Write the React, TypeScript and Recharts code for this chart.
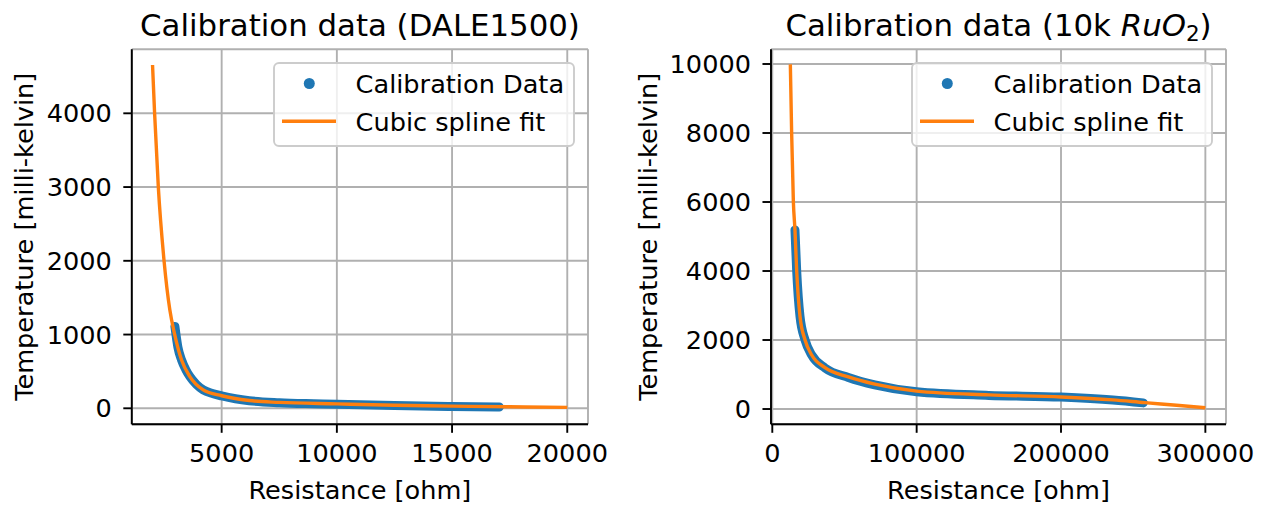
import { LineChart, Line, XAxis, YAxis, CartesianGrid, Legend } from "recharts";

const FONT = "'DejaVu Sans', sans-serif";
const BLUE = "#1f77b4";
const ORANGE = "#ff7f0e";
const GRID = "#b0b0b0";
const FS = 25.6;

// DALE1500 calibration points and spline fit (resistance in ohm, temperature in mK)
const daleCalR = [2970, 3100, 3260, 3450, 3620, 3900, 4200, 4600, 5000, 5600, 6200, 7500, 9000, 10000, 12500, 15000, 17050];
const daleCalT = [1110, 830, 655, 520, 430, 325, 250, 200, 168, 130, 103, 76, 62, 55, 38, 25, 18];
const daleFitR = [2000, 2090, 2250, 2500, 2750, 2960, 3260, 3620, 4200, 5000, 6200, 7500, 10000, 12500, 15000, 17500, 20000];
const daleFitT = [4655, 4000, 3005, 2000, 1335, 1003, 655, 430, 250, 170, 105, 80, 60, 42, 30, 20, 12];
const daleTicksX = [5000, 10000, 15000, 20000];
const daleTicksY = [0, 1000, 2000, 3000, 4000];

// 10k RuO2 calibration points and spline fit
const ruoCalR = [15700, 16900, 19200, 22700, 27300, 36500, 52700, 71000, 100000, 150000, 200000, 236000, 257000];
const ruoCalT = [5190, 4000, 2680, 2000, 1565, 1190, 915, 700, 500, 395, 345, 260, 178];
const ruoFitR = [12500, 13400, 14600, 15700, 16900, 19200, 22700, 27300, 36500, 52700, 71000, 100000, 150000, 200000, 236000, 258000, 280000, 300000];
const ruoFitT = [9990, 8000, 6000, 5190, 4000, 2680, 2000, 1565, 1200, 930, 720, 520, 410, 350, 265, 185, 110, 38];
const ruoTicksX = [0, 100000, 200000, 300000];
const ruoTicksY = [0, 2000, 4000, 6000, 8000, 10000];

const toPoints = (rs: number[], ts: number[]) => rs.map((r, i) => ({ r, t: ts[i] }));

const tickStyle = { fill: "#000", fontSize: FS, fontFamily: FONT };
const blackLine = { stroke: "#000", strokeWidth: 1.9 };

function LegendBox(props: any) {
  const items = props.payload || [];
  return (
    <svg width={302} height={85}>
      <rect x={1} y={1} width={300} height={83} rx={5} fill="rgba(255,255,255,0.8)" stroke="#cccccc" strokeWidth={1.9} />
      {items.map((it: any, i: number) => {
        const cy = 21.5 + i * 37.7;
        return (
          <g key={i}>
            {it.type === "circle" ? (
              <circle cx={36.3} cy={cy} r={5.5} fill={it.color} />
            ) : (
              <line x1={9} x2={63} y1={cy} y2={cy} stroke={it.color} strokeWidth={3.4} />
            )}
            <text x={82.6} y={cy + 9.3} fontSize={FS} fontFamily={FONT} fill="#000">
              {it.value}
            </text>
          </g>
        );
      })}
    </svg>
  );
}

type PanelProps = {
  cal: { r: number; t: number }[];
  fit: { r: number; t: number }[];
  xDomain: [number, number];
  yDomain: [number, number];
  xTicks: number[];
  yTicks: number[];
  yAxisWidth: number;
  marginLeft: number;
  marginRight: number;
  yLabelOffset: number;
  legendLeft: number;
};

function Panel(p: PanelProps) {
  const xLabel = (props: any) => {
    const vb = props.viewBox;
    return (
      <text x={vb.x + vb.width / 2} y={vb.y + 75} textAnchor="middle" fontSize={FS} fontFamily={FONT} fill="#000">
        Resistance [ohm]
      </text>
    );
  };
  const yLabel = (props: any) => {
    const vb = props.viewBox;
    const x = vb.x + vb.width - p.yLabelOffset;
    const y = vb.y + vb.height / 2;
    return (
      <text x={x} y={y} transform={`rotate(-90 ${x} ${y})`} textAnchor="middle" fontSize={FS} fontFamily={FONT} fill="#000">
        Temperature [milli-kelvin]
      </text>
    );
  };
  return (
    <LineChart width={631} height={506} margin={{ top: 49.3, right: p.marginRight, bottom: 41.7, left: p.marginLeft }}>
      <CartesianGrid stroke={GRID} strokeWidth={1.9} />
      <XAxis
        type="number"
        dataKey="r"
        domain={p.xDomain}
        ticks={p.xTicks}
        allowDataOverflow
        height={40}
        tickSize={8.5}
        tickMargin={11.5}
        tick={tickStyle}
        tickLine={blackLine}
        axisLine={blackLine}
        label={xLabel}
      />
      <XAxis xAxisId="top" orientation="top" type="number" domain={p.xDomain} allowDataOverflow height={0} tick={false} tickLine={false} axisLine={blackLine} />
      <YAxis
        type="number"
        dataKey="t"
        domain={p.yDomain}
        ticks={p.yTicks}
        allowDataOverflow
        width={p.yAxisWidth}
        tickSize={8.5}
        tickMargin={11.5}
        tick={tickStyle}
        tickLine={blackLine}
        axisLine={blackLine}
        label={yLabel}
      />
      <YAxis yAxisId="right" orientation="right" type="number" domain={p.yDomain} allowDataOverflow width={0} tick={false} tickLine={false} axisLine={blackLine} />
      <Legend
        layout="vertical"
        align="center"
        verticalAlign="middle"
        content={LegendBox}
        wrapperStyle={{ left: p.legendLeft, top: 62.3, width: 302, height: 85 }}
      />
      <Line
        data={p.cal}
        dataKey="t"
        name="Calibration Data"
        legendType="circle"
        type="monotone"
        stroke={BLUE}
        strokeWidth={9}
        strokeLinecap="round"
        strokeLinejoin="round"
        dot={false}
        activeDot={false}
        isAnimationActive={false}
      />
      <Line
        data={p.fit}
        dataKey="t"
        name="Cubic spline fit"
        legendType="line"
        type="monotone"
        stroke={ORANGE}
        strokeWidth={3.4}
        dot={false}
        activeDot={false}
        isAnimationActive={false}
      />
    </LineChart>
  );
}

export default function App() {
  return (
    <div style={{ position: "absolute", left: 0, top: 0, width: 1262, height: 506, background: "#fff", fontFamily: FONT }}>
      <div style={{ position: "absolute", left: 0, top: 0 }}>
        <Panel
          cal={toPoints(daleCalR, daleCalT)}
          fit={toPoints(daleFitR, daleFitT)}
          xDomain={[1100, 20900]}
          yDomain={[-217, 4868]}
          xTicks={daleTicksX}
          yTicks={daleTicksY}
          yAxisWidth={80}
          marginLeft={51.8}
          marginRight={43}
          yLabelOffset={98.3}
          legendLeft={272.5}
        />
      </div>
      <div style={{ position: "absolute", left: 631, top: 0 }}>
        <Panel
          cal={toPoints(ruoCalR, ruoCalT)}
          fit={toPoints(ruoFitR, ruoFitT)}
          xDomain={[-900, 314300]}
          yDomain={[-443, 10426]}
          xTicks={ruoTicksX}
          yTicks={ruoTicksY}
          yAxisWidth={95}
          marginLeft={45}
          marginRight={36}
          yLabelOffset={114}
          legendLeft={279.5}
        />
      </div>
      <svg width={1262} height={506} style={{ position: "absolute", left: 0, top: 0, pointerEvents: "none" }}>
        <text x={360} y={36} textAnchor="middle" fontSize={30.8} fontFamily={FONT} fill="#000">
          Calibration data (DALE1500)
        </text>
        <text x={998.5} y={36} textAnchor="middle" fontSize={30.8} fontFamily={FONT} fill="#000">
          Calibration data (10k <tspan fontStyle="italic">RuO</tspan>
          <tspan fontSize={21.5} dy={5}>2</tspan>
          <tspan dy={-5}>)</tspan>
        </text>
      </svg>
    </div>
  );
}
